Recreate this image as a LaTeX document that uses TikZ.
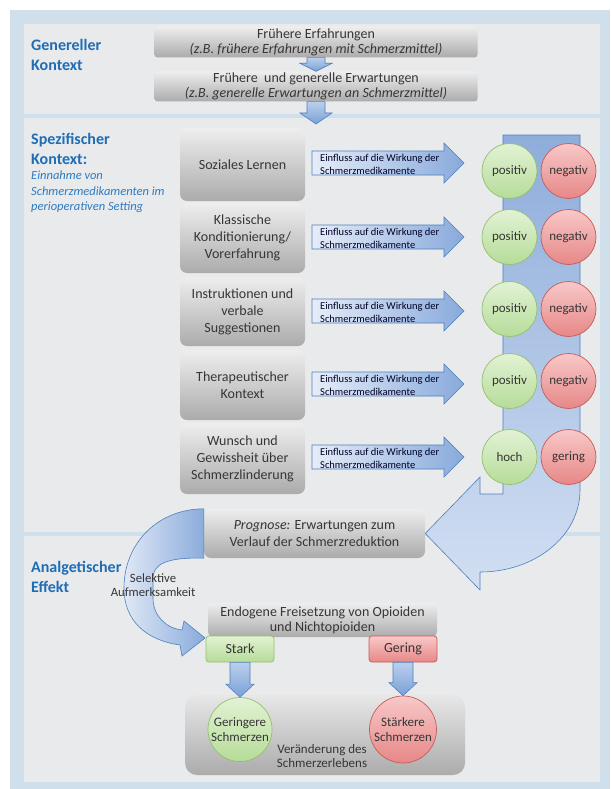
\documentclass[tikz,border=0pt]{standalone}
\usepackage{fontspec}
\setmainfont{Carlito}
\usetikzlibrary{calc}
\definecolor{bgblue}{HTML}{CFE0EC}
\definecolor{panelc}{HTML}{E8EAEC}
\definecolor{ttlc}{HTML}{1F6DB4}
\definecolor{subc}{HTML}{2F7BC0}
\definecolor{txt}{HTML}{363636}
\definecolor{gTop}{HTML}{EEEEEE}
\definecolor{gBot}{HTML}{ABABAB}
\definecolor{arrL}{HTML}{E6EDF8}
\definecolor{arrR}{HTML}{88AADB}
\definecolor{arrD}{HTML}{4F7FBE}
\definecolor{dTop}{HTML}{BACFEC}
\definecolor{dBot}{HTML}{7AA1D7}
\definecolor{uTop}{HTML}{8EADDB}
\definecolor{uBot}{HTML}{D2DFF2}
\definecolor{cL}{HTML}{DFE8F5}
\definecolor{cR}{HTML}{8AABDC}
\definecolor{grnT}{HTML}{E2F2D4}
\definecolor{grnB}{HTML}{B6DC99}
\definecolor{grnD}{HTML}{94BF6E}
\definecolor{redT}{HTML}{F8C8C8}
\definecolor{redB}{HTML}{E78787}
\definecolor{redD}{HTML}{C65B57}
\tikzset{
  ttl/.style={align=left, inner sep=0pt, text=ttlc, font=\fontsize{16}{19.5}\selectfont\bfseries},
  subttl/.style={align=left, inner sep=0pt, text=subc, font=\fontsize{12.5}{15.5}\selectfont\itshape},
  topbox/.style={rounded corners=3pt, top color=gTop, bottom color=gBot, text=txt, align=center, inner sep=0pt,
    minimum width=323pt, font=\fontsize{14}{15}\selectfont},
  graybox/.style={rounded corners=7pt, top color=gTop, bottom color=gBot, text=txt, align=center, inner sep=0pt,
    minimum width=125pt, font=\fontsize{14}{17}\selectfont},
  blockarrow/.style={left color=arrL, right color=arrR, draw=arrD, line width=0.6pt},
  downarr/.style={top color=dTop, bottom color=dBot, draw=arrD, line width=0.6pt},
  atext/.style={align=left, inner sep=0pt, text=black!85!blue, font=\fontsize{10.5}{13}\selectfont},
  circ/.style={circle, inner sep=0pt, minimum size=55pt, text=txt, align=center, font=\fontsize{13}{15.5}\selectfont, line width=0.7pt},
  posc/.style={circ, top color=grnT, bottom color=grnB, draw=grnD},
  negc/.style={circ, top color=redT, bottom color=redB, draw=redD},
  plain/.style={align=center, inner sep=0pt, text=txt, font=\fontsize{13}{14.5}\selectfont},
  smallbox/.style={rounded corners=3pt, inner sep=0pt, minimum width=68pt, minimum height=26pt, text=txt, font=\fontsize{14}{16}\selectfont, line width=0.7pt},
}
\newcommand\rarrow[2]{%
  \path[blockarrow] ($(#1)+(0,-12)$) -- ($(#2)+(-20,-12)$) -- ($(#2)+(-20,-20)$) -- (#2)
    -- ($(#2)+(-20,20)$) -- ($(#2)+(-20,12)$) -- ($(#1)+(0,12)$) -- cycle;}
\newcommand\darrow[5]{%
  \path[downarr] ($(#1)+(-#3,0)$) -- ($(#1)+(#3,0)$) -- ($(#2)+(#3,-#5)$) -- ($(#2)+(#4,-#5)$) -- (#2)
    -- ($(#2)+(-#4,-#5)$) -- ($(#2)+(-#3,-#5)$) -- cycle;}
\begin{document}
\begin{tikzpicture}[x=1pt,y=-1pt]
\useasboundingbox (0,0) rectangle (610,789);
\fill[white] (0,0) rectangle (610,789);
\fill[bgblue] (10,10) rectangle (610,789);
\fill[panelc] (24,24) rectangle (600,114);
\fill[panelc] (24,118) rectangle (600,532);
\fill[panelc] (24,536) rectangle (600,782);

% section titles
\node[ttl, anchor=west] (t1) at (31,55) {Genereller\\Kontext};
\node[ttl, anchor=west] (t2) at (31,149) {Spezifischer\\Kontext:};
\node[subttl, anchor=west] (t2s) at (31,192) {Einnahme von\\Schmerzmedikamenten im\\perioperativen Setting};
\node[ttl, anchor=west] (t3) at (31,577) {Analgetischer\\Effekt};

% general context
\node[topbox, minimum height=31pt] (f1) at (316,42) {Frühere Erfahrungen\\\textit{(z.B. frühere Erfahrungen mit Schmerzmittel)}};
\node[topbox, minimum height=30pt] (f2) at (316,86.5) {Frühere\ \ und generelle Erwartungen\\\textit{(z.B. generelle Erwartungen an Schmerzmittel)}};
\coordinate (f2tip) at (316,124);
\darrow{f1.south}{f2.north}{9}{16}{8}
\darrow{f2.south}{f2tip}{9}{16}{11}

% big blue band with arrow head towards the prognosis box
\node[graybox, minimum width=221pt, minimum height=49pt] (pr) at (314.5,533.5) {\textit{Prognose:} Erwartungen zum\\Verlauf der Schmerzreduktion};
\path[top color=uTop, bottom color=uBot, draw=arrD, line width=0.6pt]
  (503,135) -- (580,135) -- (580,490) .. controls (580,536) and (535,572) .. (480,572)
  -- (480,590) -- (pr.east) -- (480,477) -- (480,494) -- (503,494) -- cycle;

% specific context rows
\node[graybox, minimum height=73pt] (b1) at (242.5,164.5) {Soziales Lernen};
\node[graybox, minimum height=70pt] (b2) at (242.5,238) {Klassische\\Konditionierung/\\Vorerfahrung};
\node[graybox, minimum height=69pt] (b3) at (242.5,311.5) {Instruktionen und\\verbale\\Suggestionen};
\node[graybox, minimum height=70pt] (b4) at (242.5,385) {Therapeutischer\\Kontext};
\node[graybox, minimum height=71pt] (b5) at (242.5,458.5) {Wunsch und\\Gewissheit über\\Schmerzlinderung};

\node[posc] (p1) at (509.5,171) {positiv};
\node[negc] (n1) at (568.5,171) {negativ};
\node[posc] (p2) at (509.5,237) {positiv};
\node[negc] (n2) at (568.5,237) {negativ};
\node[posc] (p3) at (509.5,309) {positiv};
\node[negc] (n3) at (568.5,309) {negativ};
\node[posc] (p4) at (509.5,381) {positiv};
\node[negc] (n4) at (568.5,381) {negativ};
\node[posc] (p5) at (509.5,457) {hoch};
\node[negc] (n5) at (568.5,457) {gering};

\foreach \i/\y in {1/163,2/237,3/311,4/384,5/457}{
  \coordinate (as\i) at (312,\y);
  \coordinate (at\i) at (464,\y);
  \rarrow{as\i}{at\i}
  \node[atext, anchor=west] (ax\i) at (320,\y+1) {Einfluss auf die Wirkung der\\Schmerzmedikamente};
}

% selective attention arrow
\path[left color=cL, right color=cR, draw=arrD, line width=0.6pt]
  (pr.north west) .. controls (158,509) and (124,543) .. (124,588)
  .. controls (124,620) and (145,640) .. (180,645) -- (182,656) -- (205,638) -- (184,621) -- (182,630)
  .. controls (165,628) and (153,615) .. (153,598) -- (153,578)
  .. controls (153,565) and (165,557) .. (pr.south west) -- cycle;
\node[plain, font=\fontsize{12.7}{14}\selectfont] (sel) at (153,585) {Selektive\\Aufmerksamkeit};

% analgesic effect
\node[graybox, rounded corners=5pt, minimum width=229pt, minimum height=34pt, font=\fontsize{14}{15}\selectfont] (en) at (322.5,620) {Endogene Freisetzung von Opioiden\\und Nichtopioiden};
\node[smallbox, top color=grnT, bottom color=grnB, draw=grnD] (st) at (240,649) {Stark};
\node[smallbox, top color=redT, bottom color=redB, draw=redD] (gr) at (403,649) {Gering};

\node[graybox, rounded corners=12pt, minimum width=280pt, minimum height=80pt, top color=gTop!90!gBot] (ve) at (325,735) {};
\node[plain, anchor=north] (vt) at (322,744) {Veränderung des\\Schmerzerlebens};
\node[posc, minimum size=64pt] (ge) at (240,729.5) {Geringere\\Schmerzen};
\node[negc, minimum size=67pt] (sk) at (403,729.5) {Stärkere\\Schmerzen};

\darrow{st.south}{ge.north}{10}{14}{13}
\darrow{gr.south}{sk.north}{10}{14}{13}
\end{tikzpicture}
\end{document}
